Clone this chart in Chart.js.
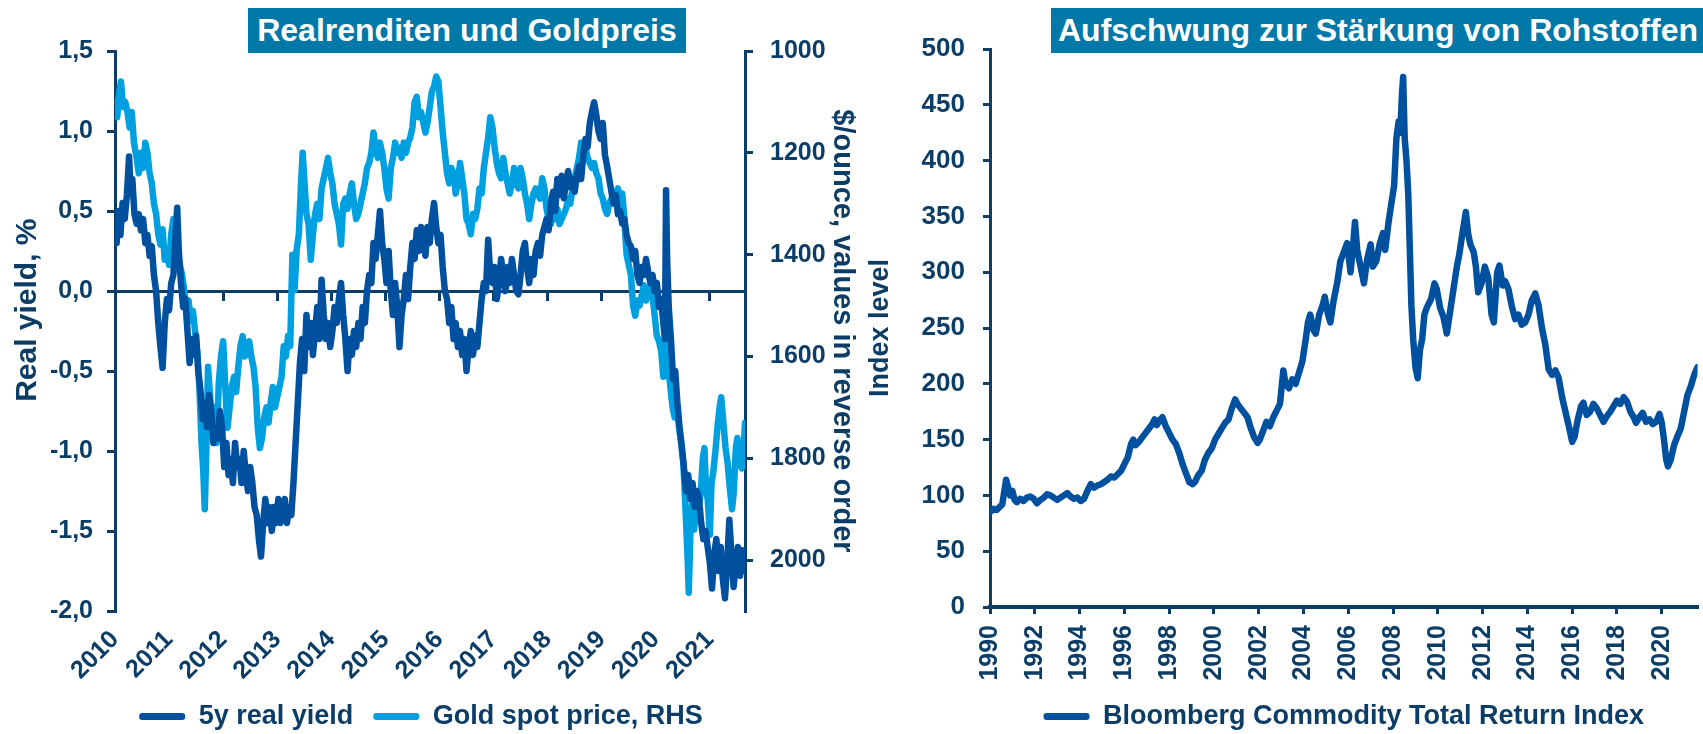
<!DOCTYPE html>
<html>
<head>
<meta charset="utf-8">
<script src="https://cdn.jsdelivr.net/npm/chart.js@4.4.0/dist/chart.umd.min.js"></script>
<style>
  body { margin: 0; background: #fff; width: 1703px; height: 734px; position: relative; overflow: hidden; font-family: "Liberation Sans", Arial, sans-serif; }
  canvas { position: absolute; top: 0; }
  .titel { position: absolute; top: 8px; height: 45px; line-height: 45px; background: #0078a8; color: #fff; font-weight: bold; font-size: 32px; white-space: nowrap; z-index: 2; }
</style>
</head>
<body>
<canvas id="links" width="860" height="734" style="left:0"></canvas>
<canvas id="rechts" width="843" height="734" style="left:860px"></canvas>
<div class="titel" style="left:248px;width:438px;text-align:center">Realrenditen und Goldpreis</div>
<div class="titel" style="left:1051px;width:652px;padding-left:7px;box-sizing:border-box">Aufschwung zur Stärkung von Rohstoffen</div>
<script>
const navy = "#0b3d66";
const dunkelblau = "#0050a0";
const hellblau = "#00a0e0";

// 5y real yield, %
const renditeJahre = [
  2010.00, 2010.03, 2010.06, 2010.10, 2010.14, 2010.18, 2010.22, 2010.26, 2010.29, 2010.32,
  2010.36, 2010.40, 2010.44, 2010.48, 2010.52, 2010.56, 2010.60, 2010.64, 2010.68, 2010.72,
  2010.76, 2010.80, 2010.84, 2010.88, 2010.92, 2010.96, 2011.00, 2011.04, 2011.08, 2011.12,
  2011.15, 2011.18, 2011.22, 2011.26, 2011.30, 2011.34, 2011.38, 2011.42, 2011.46, 2011.50,
  2011.54, 2011.58, 2011.62, 2011.66, 2011.70, 2011.74, 2011.78, 2011.82, 2011.86, 2011.90,
  2011.94, 2011.98, 2012.02, 2012.06, 2012.10, 2012.14, 2012.18, 2012.22, 2012.26, 2012.30,
  2012.34, 2012.38, 2012.42, 2012.46, 2012.50, 2012.54, 2012.58, 2012.62, 2012.66, 2012.70,
  2012.74, 2012.78, 2012.82, 2012.86, 2012.90, 2012.94, 2012.98, 2013.02, 2013.06, 2013.10,
  2013.14, 2013.18, 2013.22, 2013.26, 2013.30, 2013.34, 2013.38, 2013.42, 2013.46, 2013.50,
  2013.54, 2013.58, 2013.62, 2013.66, 2013.70, 2013.74, 2013.78, 2013.82, 2013.86, 2013.90,
  2013.94, 2013.98, 2014.02, 2014.06, 2014.10, 2014.14, 2014.18, 2014.22, 2014.26, 2014.30,
  2014.34, 2014.38, 2014.42, 2014.46, 2014.50, 2014.54, 2014.58, 2014.62, 2014.66, 2014.70,
  2014.74, 2014.78, 2014.82, 2014.86, 2014.90, 2014.94, 2014.98, 2015.02, 2015.06, 2015.10,
  2015.14, 2015.18, 2015.22, 2015.26, 2015.30, 2015.34, 2015.38, 2015.42, 2015.46, 2015.50,
  2015.54, 2015.58, 2015.62, 2015.66, 2015.70, 2015.74, 2015.78, 2015.82, 2015.86, 2015.90,
  2015.94, 2015.98, 2016.02, 2016.06, 2016.10, 2016.14, 2016.18, 2016.22, 2016.26, 2016.30,
  2016.34, 2016.38, 2016.42, 2016.46, 2016.50, 2016.54, 2016.58, 2016.62, 2016.66, 2016.70,
  2016.74, 2016.78, 2016.82, 2016.86, 2016.90, 2016.94, 2016.98, 2017.02, 2017.06, 2017.10,
  2017.14, 2017.18, 2017.22, 2017.26, 2017.30, 2017.34, 2017.38, 2017.42, 2017.46, 2017.50,
  2017.54, 2017.58, 2017.62, 2017.66, 2017.70, 2017.74, 2017.78, 2017.82, 2017.86, 2017.90,
  2017.94, 2017.98, 2018.02, 2018.06, 2018.10, 2018.14, 2018.18, 2018.22, 2018.26, 2018.30,
  2018.34, 2018.38, 2018.42, 2018.46, 2018.50, 2018.54, 2018.58, 2018.62, 2018.66, 2018.70,
  2018.74, 2018.78, 2018.82, 2018.86, 2018.90, 2018.94, 2018.98, 2019.02, 2019.06, 2019.10,
  2019.14, 2019.18, 2019.22, 2019.26, 2019.30, 2019.34, 2019.38, 2019.42, 2019.46, 2019.50,
  2019.54, 2019.58, 2019.62, 2019.66, 2019.70, 2019.74, 2019.78, 2019.82, 2019.86, 2019.90,
  2019.94, 2019.98, 2020.02, 2020.06, 2020.10, 2020.14, 2020.17, 2020.19, 2020.21, 2020.24,
  2020.28, 2020.32, 2020.36, 2020.40, 2020.44, 2020.48, 2020.52, 2020.56, 2020.60, 2020.64,
  2020.68, 2020.72, 2020.76, 2020.80, 2020.84, 2020.88, 2020.92, 2020.96, 2021.00, 2021.04,
  2021.08, 2021.12, 2021.16, 2021.20, 2021.24, 2021.28, 2021.32, 2021.36, 2021.40, 2021.44,
  2021.48, 2021.52, 2021.56, 2021.60, 2021.65
];
const renditeWerte = [
  0.40, 0.30, 0.50, 0.35, 0.55, 0.45, 0.60, 0.84, 0.62, 0.70,
  0.48, 0.42, 0.48, 0.38, 0.45, 0.30, 0.35, 0.22, 0.28, 0.10,
  0.00, -0.20, -0.35, -0.48, -0.20, -0.05, -0.12, 0.05, 0.10, 0.35,
  0.52, 0.25, 0.05, -0.10, -0.05, -0.25, -0.45, -0.30, -0.40, -0.28,
  -0.50, -0.62, -0.80, -0.70, -0.85, -0.65, -0.75, -0.95, -0.85, -0.92,
  -0.75, -0.85, -1.10, -0.95, -1.15, -1.05, -1.20, -0.95, -1.10, -1.05,
  -1.20, -1.00, -1.15, -1.25, -1.10, -1.20, -1.35, -1.40, -1.55, -1.66,
  -1.45, -1.30, -1.45, -1.35, -1.50, -1.35, -1.45, -1.30, -1.45, -1.40,
  -1.30, -1.45, -1.35, -1.40, -1.20, -0.95, -0.70, -0.45, -0.30, -0.50,
  -0.15, -0.35, -0.20, -0.40, -0.25, -0.10, -0.30, 0.07, -0.15, -0.30,
  -0.20, -0.35, -0.25, -0.10, -0.20, -0.05, 0.05, -0.15, -0.30, -0.50,
  -0.30, -0.40, -0.25, -0.35, -0.20, -0.30, -0.10, -0.20, 0.00, 0.10,
  0.05, 0.30, 0.20, 0.35, 0.50, 0.30, 0.20, 0.05, 0.25, 0.00,
  -0.15, 0.05, -0.10, -0.35, -0.15, -0.05, 0.10, -0.05, 0.15, 0.30,
  0.20, 0.38, 0.25, 0.40, 0.30, 0.22, 0.40, 0.30, 0.45, 0.55,
  0.40, 0.30, 0.35, 0.15, 0.00, -0.05, -0.20, -0.10, -0.30, -0.20,
  -0.35, -0.25, -0.40, -0.30, -0.50, -0.35, -0.25, -0.40, -0.28, -0.35,
  -0.20, -0.05, 0.05, 0.00, 0.32, 0.10, 0.05, 0.15, -0.05, 0.05,
  0.20, 0.10, 0.00, 0.15, 0.05, 0.20, 0.10, 0.00, -0.02, 0.10,
  0.25, 0.30, 0.15, 0.05, 0.20, 0.10, 0.25, 0.30, 0.22, 0.35,
  0.40, 0.45, 0.38, 0.55, 0.62, 0.50, 0.70, 0.60, 0.72, 0.58,
  0.68, 0.75, 0.65, 0.70, 0.62, 0.72, 0.78, 0.70, 0.85, 0.95,
  0.90, 1.05, 1.12, 1.18, 1.10, 1.00, 0.95, 1.05, 0.85, 0.78,
  0.70, 0.62, 0.55, 0.60, 0.48, 0.50, 0.42, 0.45, 0.35, 0.30,
  0.28, 0.20, 0.25, 0.10, 0.05, 0.15, 0.10, 0.20, 0.12, 0.05,
  0.10, 0.00, 0.05, -0.10, -0.05, -0.20, -0.30, 0.63, 0.20, -0.10,
  -0.30, -0.55, -0.50, -0.70, -0.85, -0.97, -1.10, -1.25, -1.15, -1.30,
  -1.20, -1.35, -1.25, -1.30, -1.45, -1.55, -1.50, -1.60, -1.70, -1.86,
  -1.65, -1.55, -1.75, -1.60, -1.80, -1.92, -1.70, -1.43, -1.65, -1.85,
  -1.70, -1.60, -1.78, -1.62, -1.75
];

// Gold spot price, $/ounce
const goldJahre = [
  2010.00, 2010.04, 2010.08, 2010.11, 2010.15, 2010.19, 2010.23, 2010.27, 2010.31, 2010.35,
  2010.40, 2010.44, 2010.48, 2010.52, 2010.56, 2010.60, 2010.64, 2010.68, 2010.72, 2010.76,
  2010.80, 2010.84, 2010.88, 2010.92, 2010.96, 2011.00, 2011.04, 2011.08, 2011.12, 2011.16,
  2011.20, 2011.24, 2011.28, 2011.32, 2011.36, 2011.40, 2011.44, 2011.48, 2011.52, 2011.56,
  2011.60, 2011.63, 2011.66, 2011.69, 2011.72, 2011.76, 2011.80, 2011.84, 2011.88, 2011.92,
  2011.96, 2012.00, 2012.04, 2012.08, 2012.12, 2012.16, 2012.20, 2012.24, 2012.28, 2012.32,
  2012.36, 2012.40, 2012.44, 2012.48, 2012.52, 2012.56, 2012.60, 2012.64, 2012.68, 2012.72,
  2012.76, 2012.80, 2012.84, 2012.88, 2012.92, 2012.96, 2013.00, 2013.04, 2013.08, 2013.12,
  2013.16, 2013.20, 2013.24, 2013.28, 2013.32, 2013.36, 2013.40, 2013.44, 2013.47, 2013.50,
  2013.54, 2013.58, 2013.62, 2013.66, 2013.70, 2013.74, 2013.78, 2013.82, 2013.86, 2013.90,
  2013.94, 2013.98, 2014.02, 2014.06, 2014.10, 2014.14, 2014.18, 2014.22, 2014.26, 2014.30,
  2014.34, 2014.38, 2014.42, 2014.46, 2014.50, 2014.54, 2014.58, 2014.62, 2014.66, 2014.70,
  2014.74, 2014.78, 2014.82, 2014.86, 2014.90, 2014.94, 2014.98, 2015.02, 2015.06, 2015.10,
  2015.14, 2015.18, 2015.22, 2015.26, 2015.30, 2015.34, 2015.38, 2015.42, 2015.46, 2015.50,
  2015.54, 2015.58, 2015.62, 2015.66, 2015.70, 2015.74, 2015.78, 2015.82, 2015.86, 2015.90,
  2015.94, 2015.98, 2016.02, 2016.06, 2016.10, 2016.14, 2016.18, 2016.22, 2016.26, 2016.30,
  2016.34, 2016.38, 2016.42, 2016.46, 2016.50, 2016.54, 2016.58, 2016.62, 2016.66, 2016.70,
  2016.74, 2016.78, 2016.82, 2016.86, 2016.90, 2016.94, 2016.98, 2017.02, 2017.06, 2017.10,
  2017.14, 2017.18, 2017.22, 2017.26, 2017.30, 2017.34, 2017.38, 2017.42, 2017.46, 2017.50,
  2017.54, 2017.58, 2017.62, 2017.66, 2017.70, 2017.74, 2017.78, 2017.82, 2017.86, 2017.90,
  2017.94, 2017.98, 2018.02, 2018.06, 2018.10, 2018.14, 2018.18, 2018.22, 2018.26, 2018.30,
  2018.34, 2018.38, 2018.42, 2018.46, 2018.50, 2018.54, 2018.58, 2018.62, 2018.66, 2018.70,
  2018.74, 2018.78, 2018.82, 2018.86, 2018.90, 2018.94, 2018.98, 2019.02, 2019.06, 2019.10,
  2019.14, 2019.18, 2019.22, 2019.26, 2019.30, 2019.34, 2019.38, 2019.42, 2019.46, 2019.50,
  2019.54, 2019.58, 2019.62, 2019.66, 2019.70, 2019.74, 2019.78, 2019.82, 2019.86, 2019.90,
  2019.94, 2019.98, 2020.02, 2020.06, 2020.10, 2020.14, 2020.17, 2020.20, 2020.23, 2020.27,
  2020.31, 2020.35, 2020.39, 2020.43, 2020.47, 2020.51, 2020.55, 2020.59, 2020.61, 2020.64,
  2020.67, 2020.71, 2020.75, 2020.79, 2020.83, 2020.87, 2020.90, 2020.93, 2020.96, 2021.00,
  2021.03, 2021.06, 2021.10, 2021.14, 2021.18, 2021.21, 2021.25, 2021.29, 2021.33, 2021.37,
  2021.41, 2021.44, 2021.48, 2021.51, 2021.55, 2021.59, 2021.62, 2021.65
];
const goldWerte = [
  1100, 1130, 1080, 1060, 1110, 1100, 1120, 1150, 1120, 1180,
  1210, 1240, 1200, 1230, 1180, 1200, 1240, 1260, 1300, 1320,
  1360, 1380, 1350, 1410, 1390, 1420, 1360, 1330, 1370, 1410,
  1420, 1440, 1470, 1510, 1490, 1530, 1510, 1550, 1590, 1660,
  1770, 1820, 1900, 1780, 1620, 1680, 1740, 1700, 1770, 1650,
  1600, 1570, 1660, 1740, 1700, 1660, 1640, 1670, 1620, 1580,
  1560, 1600, 1590, 1570, 1600, 1620, 1660, 1740, 1780, 1760,
  1720, 1700, 1730, 1690, 1660, 1700, 1680, 1660, 1640, 1580,
  1600, 1560, 1580, 1400, 1470, 1390, 1360, 1260, 1200, 1250,
  1320, 1340, 1410, 1360, 1320, 1300, 1330, 1270, 1250, 1230,
  1210, 1240, 1260, 1300, 1320, 1340, 1380, 1300, 1290, 1310,
  1280, 1260, 1300, 1330, 1320, 1300, 1280, 1260, 1230, 1220,
  1200, 1160, 1190, 1210, 1180, 1200, 1230, 1270, 1290, 1230,
  1210, 1180, 1200, 1190, 1210, 1180, 1200, 1180, 1170, 1150,
  1100, 1090, 1130, 1120, 1140, 1160, 1140, 1110, 1080, 1070,
  1050, 1060, 1110, 1160, 1200, 1240, 1260, 1230, 1240, 1280,
  1260, 1220, 1250, 1280, 1330, 1340, 1360, 1320, 1330, 1310,
  1270, 1280, 1230, 1200, 1170, 1130, 1150, 1190, 1220, 1240,
  1250, 1210, 1240, 1260, 1280, 1260, 1230, 1260, 1270, 1230,
  1250, 1280, 1300, 1330, 1300, 1280, 1270, 1280, 1290, 1250,
  1270, 1310, 1330, 1340, 1320, 1330, 1310, 1340, 1330, 1320,
  1310, 1290, 1300, 1270, 1250, 1230, 1210, 1180, 1200, 1190,
  1210, 1220, 1230, 1220, 1240, 1250, 1280, 1290, 1310, 1320,
  1300, 1290, 1300, 1280, 1270, 1290, 1280, 1330, 1400, 1420,
  1440, 1500, 1520, 1490, 1500, 1480, 1460, 1490, 1470, 1460,
  1480, 1520, 1560, 1570, 1590, 1640, 1550, 1480, 1620, 1660,
  1700, 1720, 1700, 1740, 1770, 1810, 1900, 2000, 2064, 1950,
  1890, 1940, 1880, 1900, 1870, 1800, 1780, 1860, 1880, 1950,
  1850, 1830, 1790, 1740, 1700, 1680, 1730, 1780, 1810, 1860,
  1900, 1870, 1780, 1760, 1810, 1820, 1790, 1730
];

// Bloomberg Commodity Total Return Index
const rohstoffJahre = [
  1990.00, 1990.15, 1990.30, 1990.45, 1990.55, 1990.65, 1990.72, 1990.80, 1990.90, 1991.00,
  1991.10, 1991.20, 1991.35, 1991.50, 1991.65, 1991.80, 1991.95, 1992.10, 1992.25, 1992.40,
  1992.55, 1992.70, 1992.85, 1993.00, 1993.15, 1993.30, 1993.45, 1993.60, 1993.75, 1993.90,
  1994.05, 1994.20, 1994.35, 1994.50, 1994.65, 1994.80, 1994.95, 1995.10, 1995.25, 1995.40,
  1995.55, 1995.70, 1995.85, 1996.00, 1996.15, 1996.30, 1996.40, 1996.50, 1996.65, 1996.80,
  1996.95, 1997.10, 1997.25, 1997.35, 1997.45, 1997.60, 1997.70, 1997.85, 1998.00, 1998.15,
  1998.30, 1998.45, 1998.60, 1998.75, 1998.90, 1999.05, 1999.15, 1999.30, 1999.45, 1999.60,
  1999.75, 1999.90, 2000.05, 2000.20, 2000.35, 2000.50, 2000.65, 2000.80, 2000.95, 2001.05,
  2001.20, 2001.35, 2001.50, 2001.65, 2001.80, 2001.95, 2002.05, 2002.20, 2002.35, 2002.50,
  2002.65, 2002.80, 2002.95, 2003.10, 2003.20, 2003.35, 2003.50, 2003.65, 2003.80, 2003.95,
  2004.10, 2004.20, 2004.30, 2004.45, 2004.55, 2004.70, 2004.85, 2004.95, 2005.10, 2005.20,
  2005.35, 2005.50, 2005.65, 2005.80, 2005.95, 2006.10, 2006.20, 2006.30, 2006.40, 2006.50,
  2006.60, 2006.70, 2006.85, 2007.00, 2007.10, 2007.25, 2007.40, 2007.55, 2007.65, 2007.80,
  2007.95, 2008.05, 2008.15, 2008.25, 2008.32, 2008.40, 2008.45, 2008.52, 2008.60, 2008.68,
  2008.75, 2008.82, 2008.90, 2009.00, 2009.10, 2009.20, 2009.30, 2009.40, 2009.50, 2009.60,
  2009.70, 2009.85, 2009.95, 2010.10, 2010.25, 2010.40, 2010.55, 2010.70, 2010.85, 2010.95,
  2011.10, 2011.25, 2011.35, 2011.45, 2011.60, 2011.70, 2011.80, 2011.95, 2012.10, 2012.25,
  2012.40, 2012.50, 2012.65, 2012.75, 2012.90, 2013.00, 2013.15, 2013.30, 2013.45, 2013.60,
  2013.75, 2013.90, 2014.05, 2014.20, 2014.35, 2014.50, 2014.65, 2014.80, 2014.95, 2015.10,
  2015.25, 2015.40, 2015.55, 2015.70, 2015.85, 2016.00, 2016.10, 2016.25, 2016.40, 2016.50,
  2016.65, 2016.80, 2016.95, 2017.10, 2017.25, 2017.40, 2017.55, 2017.70, 2017.85, 2018.00,
  2018.15, 2018.30, 2018.45, 2018.60, 2018.75, 2018.85, 2019.00, 2019.15, 2019.30, 2019.45,
  2019.60, 2019.75, 2019.90, 2020.00, 2020.10, 2020.20, 2020.28, 2020.40, 2020.55, 2020.70,
  2020.85, 2021.00, 2021.15, 2021.30, 2021.45, 2021.60
];
const rohstoffWerte = [
  85, 88, 87, 90, 92, 105, 114, 108, 100, 104,
  96, 94, 97, 95, 98, 99, 97, 93, 96, 98,
  101, 100, 98, 96, 98, 100, 102, 99, 97, 98,
  95, 97, 104, 110, 107, 109, 110, 112, 114, 117,
  116, 119, 122, 128, 134, 146, 150, 145, 148, 152,
  156, 160, 164, 168, 163, 168, 170, 162, 156, 150,
  146, 138, 128, 120, 112, 110, 112, 118, 122, 132,
  138, 142, 150, 155, 160, 165, 168, 178, 186, 182,
  178, 174, 170, 160, 152, 147, 150, 158, 166, 162,
  170, 176, 182, 212, 200, 196, 204, 200, 210, 220,
  240, 255, 262, 248, 245, 262, 270, 278, 262, 255,
  275, 290, 310, 318, 326, 300, 320, 345, 320, 310,
  300, 290, 312, 325, 305, 310, 325, 335, 320, 345,
  365, 378, 420, 435, 425, 460, 475, 420, 400, 370,
  320, 270, 240, 215, 205, 230, 240, 262, 268, 272,
  276, 290, 285, 268, 260, 245, 265, 285, 305, 315,
  335, 354, 335, 325, 318, 305, 282, 290, 305, 295,
  262, 255, 300, 306, 288, 292, 285, 270, 258, 262,
  253, 255, 262, 275, 281, 270, 250, 235, 213, 208,
  212, 205, 188, 175, 162, 148, 152, 168, 180, 183,
  172, 175, 182, 178, 172, 166, 171, 175, 180, 185,
  182, 188, 184, 175, 170, 165, 170, 174, 166, 168,
  164, 166, 173, 165, 150, 132, 126, 132, 145, 153,
  160, 175, 190, 198, 208, 215
];

Chart.defaults.font.family = '"Liberation Sans", Arial, sans-serif';
Chart.defaults.font.weight = "bold";
Chart.defaults.color = navy;
Chart.defaults.animation = false;

function punkte(jahre, werte) {
  return jahre.map((j, i) => ({ x: j, y: werte[i] }));
}

function legendeLabels(chart) {
  return chart.data.datasets.map((d, i) => ({
    text: d.label,
    fillStyle: d.borderColor,
    strokeStyle: d.borderColor,
    lineWidth: 0,
    borderRadius: 3,
    datasetIndex: i,
    fontColor: navy
  }));
}

const achse = { color: navy, width: 3 };
const striche = { drawOnChartArea: false, color: navy, lineWidth: 3, tickLength: 8 };
const linie = { point: { radius: 0 }, line: { tension: 0, borderJoinStyle: "round", borderCapStyle: "round" } };

new Chart(document.getElementById("links"), {
  type: "line",
  data: {
    datasets: [
      { label: "5y real yield", data: punkte(renditeJahre, renditeWerte), borderColor: dunkelblau, borderWidth: 6.5, yAxisID: "y" },
      { label: "Gold spot price, RHS", data: punkte(goldJahre, goldWerte), borderColor: hellblau, borderWidth: 6.5, yAxisID: "y1" }
    ]
  },
  options: {
    responsive: false,
    devicePixelRatio: 1,
    events: [],
    elements: linie,
    // negative left padding only moves the centred legend to the left
    layout: { padding: { top: 51, right: 0, bottom: -6, left: -18 } },
    scales: {
      x: {
        type: "linear", min: 2010, max: 2021.65,
        grid: { display: false, drawTicks: false },
        border: { display: false },
        ticks: {
          stepSize: 1, includeBounds: false, autoSkip: false,
          minRotation: 45, maxRotation: 45, padding: 14,
          font: { size: 25 }, callback: v => String(v)
        },
        afterFit: s => { s.height = 740 - 611 - s.chart.legend.height; }
      },
      x2: {
        type: "linear", min: 2010, max: 2021.65, position: { y: 0 },
        grid: striche,
        border: achse,
        ticks: { display: false, stepSize: 1, includeBounds: false }
      },
      y: {
        position: "left", min: -2, max: 1.5,
        border: achse, grid: striche,
        ticks: { stepSize: 0.5, padding: 14, font: { size: 25 }, callback: v => v.toFixed(1).replace(".", ",") },
        title: { display: true, text: "     Real yield, %", font: { size: 30 }, padding: { top: 28, bottom: 0 } },
        afterFit: s => { s.width = 133; }
      },
      y1: {
        position: "right", reverse: true, min: 1000, max: 2100,
        border: achse, grid: striche,
        ticks: { stepSize: 200, includeBounds: false, padding: 17, font: { size: 25 }, callback: v => String(v) },
        title: { display: true, text: "$/ounce, values in reverse order", font: { size: 29 }, padding: { top: 1, bottom: 0 } },
        afterFit: s => { s.width = 115; }
      }
    },
    plugins: {
      tooltip: { enabled: false },
      legend: {
        position: "bottom",
        labels: { boxWidth: 46, boxHeight: 7, padding: 20, font: { size: 27 }, generateLabels: legendeLabels }
      }
    }
  }
});

new Chart(document.getElementById("rechts"), {
  type: "line",
  data: {
    datasets: [
      { label: "Bloomberg Commodity Total Return Index", data: punkte(rohstoffJahre, rohstoffWerte), borderColor: dunkelblau, borderWidth: 6.5 }
    ]
  },
  options: {
    responsive: false,
    devicePixelRatio: 1,
    events: [],
    elements: linie,
    layout: { padding: { top: 49, right: 5, bottom: -6, left: 0 } },
    scales: {
      x: {
        type: "linear", min: 1990, max: 2021.6,
        border: { color: navy, width: 4 },
        grid: { ...striche, tickLength: 7 },
        ticks: {
          stepSize: 2, includeBounds: false, autoSkip: false,
          minRotation: 90, maxRotation: 90, padding: 11,
          font: { size: 25 }, callback: v => String(v)
        },
        // legend below is 27 + 10 + 10 px high
        afterFit: s => { s.height = 740 - 607 - 47; }
      },
      y: {
        min: 0, max: 500,
        border: achse, grid: { ...striche, tickLength: 7 },
        ticks: { stepSize: 50, padding: 18, font: { size: 26 }, callback: v => String(v) },
        title: { display: true, text: "Index level", font: { size: 27 }, padding: { top: 4, bottom: 0 } },
        afterFit: s => { s.width = 130; }
      }
    },
    plugins: {
      tooltip: { enabled: false },
      legend: {
        position: "bottom", fullSize: false,
        labels: { boxWidth: 46, boxHeight: 7, padding: 10, font: { size: 27 }, generateLabels: legendeLabels }
      }
    }
  }
});
</script>
</body>
</html>
